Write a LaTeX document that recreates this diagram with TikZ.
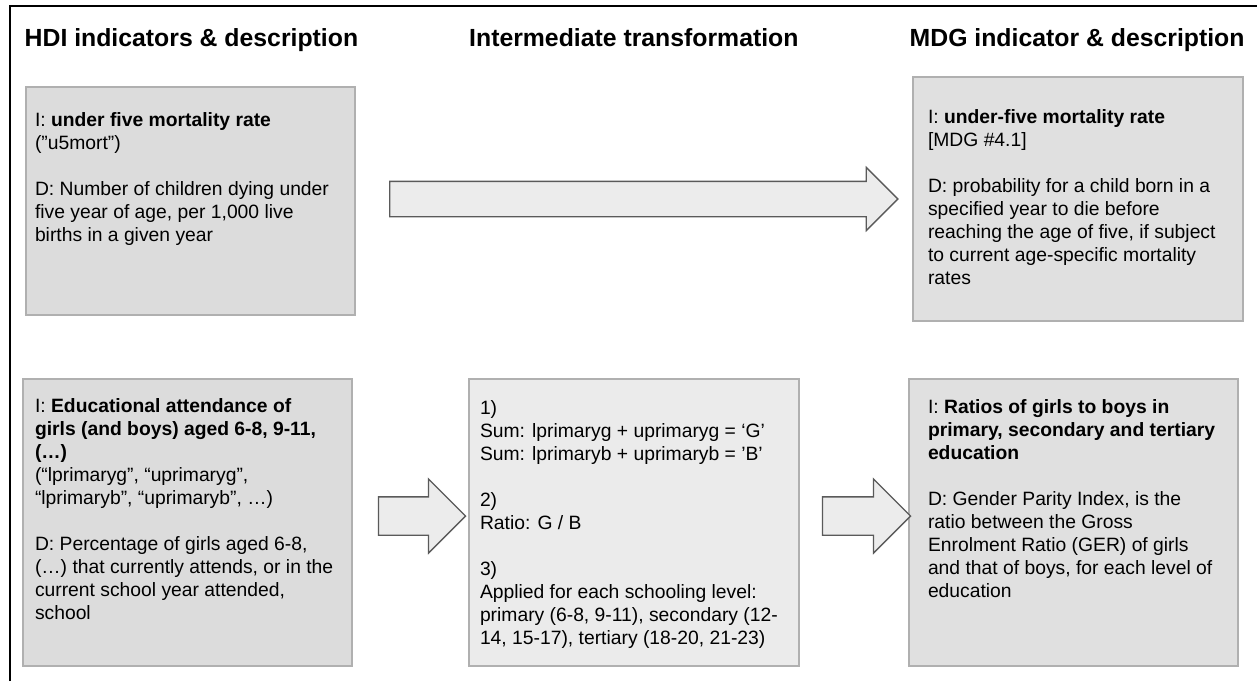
\documentclass[tikz,border=0pt]{standalone}
\usepackage{fontspec}
\setmainfont{Liberation Sans}
\usetikzlibrary{shapes.arrows}

\definecolor{hdifill}{RGB}{220,220,220}
\definecolor{mdgfill}{RGB}{224,224,224}
\definecolor{midfill}{RGB}{235,235,235}
\definecolor{boxline}{RGB}{176,176,176}
\definecolor{arrowline}{RGB}{90,90,90}
\definecolor{arrowfill}{RGB}{236,236,236}

% height, width, top gap, text
\newcommand{\cellbox}[4]{\parbox[c][#1pt][t]{#2pt}{\raggedright\vspace*{#3pt}\strut#4}}

\begin{document}
\begin{tikzpicture}[x=1pt,y=-1pt,
    head/.style={font=\bfseries\fontsize{24.8}{29}\selectfont,anchor=base west,inner sep=0pt},
    cell/.style={draw=boxline,line width=1.3pt,anchor=north west,inner ysep=0pt,outer sep=0pt,
      font=\fontsize{19.3}{23}\selectfont},
    bigarrow/.style={single arrow,draw=arrowline,fill=arrowfill,line width=1.3pt,
      inner xsep=0pt,outer sep=0pt,minimum width=0pt}]
    \useasboundingbox (0,0) rectangle (1257,681);
    \draw[line width=2pt] (10,681) -- (10,6) -- (1257,6);

    \node[head] (hdiHead) at (24.5,46.5) {HDI indicators \& description};
    \node[head] (midHead) at (469,46.5) {Intermediate transformation};
    \node[head] (mdgHead) at (909.5,46.5) {MDG indicator \& description};

    \node[cell,fill=hdifill,inner xsep=9pt] (hdiA) at (26,87) {\cellbox{228}{311}{23}{I: \textbf{under five mortality rate}\\
      (”u5mort”)\\[23pt]
      D: Number of children dying under\\ five year of age, per 1,000 live\\ births in a given year}};
    \node[cell,fill=mdgfill,inner xsep=15pt] (mdgA) at (913,77) {\cellbox{244}{300}{30}{I: \textbf{under-five mortality rate}\\
      {[MDG \#4.1]}\\[23pt]
      D: probability for a child born in a\\ specified year to die before\\ reaching the age of five, if subject\\
      to current age-specific mortality\\ rates}};

    \node[cell,fill=hdifill,inner xsep=12pt] (hdiB) at (23,379) {\cellbox{287}{305}{17.5}{I: \textbf{Educational attendance of\\
      girls (and boys) aged 6-8, 9-11,\\ (…)}\\
      (“lprimaryg”, “uprimaryg”,\\ “lprimaryb”, “uprimaryb”, …)\\[23pt]
      D: Percentage of girls aged 6-8,\\ (…) that currently attends, or in the\\ current school year attended,\\ school}};
    \node[cell,fill=midfill,inner xsep=11pt] (trans) at (469,379) {\cellbox{287}{308}{19}{1)\\
      Sum: lprimaryg + uprimaryg = ‘G’\\ Sum: lprimaryb + uprimaryb = ’B’\\[23pt]
      2)\\ Ratio: G / B\\[23pt]
      3)\\ Applied for each schooling level:\\ primary (6-8, 9-11), secondary (12-\\ 14, 15-17), tertiary (18-20, 21-23)}};
    \node[cell,fill=mdgfill,inner xsep=19pt] (mdgB) at (909,379) {\cellbox{287}{291}{18}{I: \textbf{Ratios of girls to boys in\\
      primary, secondary and tertiary\\ education}\\[23pt]
      D: Gender Parity Index, is the\\ ratio between the Gross\\ Enrolment Ratio (GER) of girls\\
      and that of boys, for each level of\\ education}};

    % block arrows
    \node[bigarrow,minimum height=508pt,inner ysep=17pt,single arrow head extend=14pt] (arrA) at (635,199) {};
    \node[bigarrow,minimum height=87pt,inner ysep=18.5pt,single arrow head extend=18pt] (arrB) at (412.5,516) {};
    \node[bigarrow,minimum height=88pt,inner ysep=18.5pt,single arrow head extend=18pt] (arrC) at (857,516) {};
  \end{tikzpicture}
\end{document}
